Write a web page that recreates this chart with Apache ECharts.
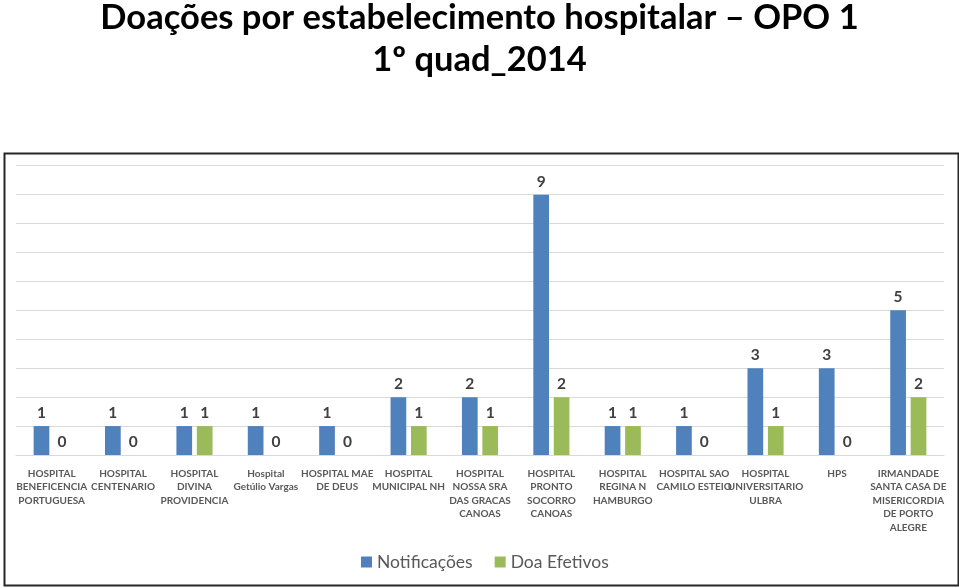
<!DOCTYPE html>
<html>
<head>
<meta charset="utf-8">
<script src="https://cdn.jsdelivr.net/npm/echarts@6/dist/echarts.min.js"></script>
<style>
html,body{margin:0;padding:0;background:#fff;}
#c{width:959px;height:588px;}
</style>
</head>
<body>
<div id="c"></div>
<script>
const categories = [
  "HOSPITAL\nBENEFICENCIA\nPORTUGUESA",
  "HOSPITAL\nCENTENARIO",
  "HOSPITAL\nDIVINA\nPROVIDENCIA",
  "Hospital\nGetúlio Vargas",
  "HOSPITAL MAE\nDE DEUS",
  "HOSPITAL\nMUNICIPAL NH",
  "HOSPITAL\nNOSSA SRA\nDAS GRACAS\nCANOAS",
  "HOSPITAL\nPRONTO\nSOCORRO\nCANOAS",
  "HOSPITAL\nREGINA N\nHAMBURGO",
  "HOSPITAL SAO\nCAMILO ESTEIO",
  "HOSPITAL\nUNIVERSITARIO\nULBRA",
  "HPS",
  "IRMANDADE\nSANTA CASA DE\nMISERICORDIA\nDE PORTO\nALEGRE"
];
const notificacoes = [1, 1, 1, 1, 1, 2, 2, 9, 1, 1, 3, 3, 5];
const doaEfetivos  = [0, 0, 1, 0, 0, 1, 1, 2, 1, 0, 1, 0, 2];
const titleLine1 = "Doações por estabelecimento hospitalar – OPO 1";
const titleLine2 = "1º quad_2014";

const chart = echarts.init(document.getElementById('c'), null, {renderer: 'canvas'});
const labelStyle = {
  show: true, position: 'top', distance: 5,
  color: '#404040', fontFamily: 'Lato', fontWeight: 'bold', fontSize: 15.5
};
chart.setOption({
  animation: false,
  backgroundColor: '#fff',
  title: [
    {text: titleLine1, left: 'center', top: -5,
     textStyle: {fontFamily: 'Lato', fontWeight: 'bold', fontSize: 34.5, color: '#000'}},
    {text: titleLine2, left: 'center', top: 37,
     textStyle: {fontFamily: 'Lato', fontWeight: 'bold', fontSize: 34.5, color: '#000'}}
  ],
  graphic: [{
    type: 'rect', left: 2, top: 151, silent: true, z: -1,
    shape: {width: 954, height: 432},
    style: {fill: 'none', stroke: '#262626', lineWidth: 2}
  }],
  legend: {
    data: ['Notificações', 'Doa Efetivos'],
    bottom: 12, left: 356,
    icon: 'rect', itemWidth: 11, itemHeight: 11, itemGap: 22,
    textStyle: {fontFamily: 'Lato', fontSize: 17.5, color: '#595959'}
  },
  grid: {left: 16, right: 15, top: 165.7, bottom: 133, containLabel: false},
  xAxis: {
    type: 'category', data: categories,
    axisTick: {show: false},
    axisLine: {lineStyle: {color: '#D9D9D9', width: 1}},
    axisLabel: {
      interval: 0, margin: 12, color: '#595959', fontFamily: 'Lato',
      fontWeight: 'bold', fontSize: 10, lineHeight: 13.5
    }
  },
  yAxis: {
    type: 'value', min: 0, max: 10, interval: 1,
    axisLabel: {show: false}, axisLine: {show: false}, axisTick: {show: false},
    splitLine: {lineStyle: {color: '#D9D9D9', width: 1}}
  },
  series: [
    {name: 'Notificações', type: 'bar', data: notificacoes, barWidth: '22%', barGap: '30%',
     itemStyle: {color: '#4F81BD'}, label: labelStyle},
    {name: 'Doa Efetivos', type: 'bar', data: doaEfetivos, barWidth: '22%',
     itemStyle: {color: '#9BBB59'}, label: labelStyle}
  ]
});
</script>
</body>
</html>
